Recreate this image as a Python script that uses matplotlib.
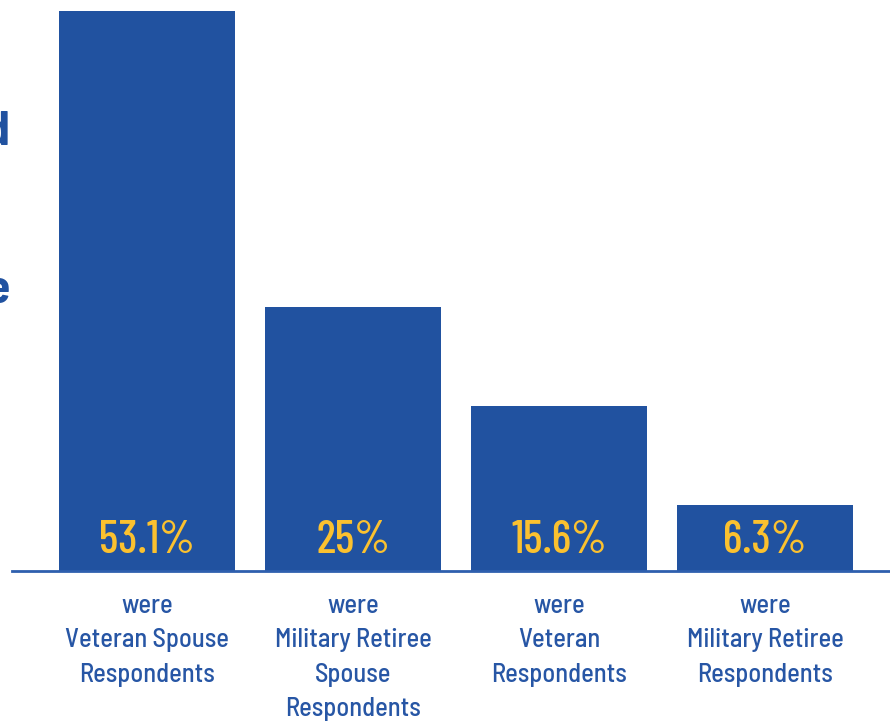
import matplotlib
matplotlib.use("Agg")
import matplotlib.pyplot as plt
from matplotlib.transforms import offset_copy, blended_transform_factory

# respondent shares
categories = ["were\nVeteran Spouse\nRespondents",
              "were\nMilitary Retiree\nSpouse\nRespondents",
              "were\nVeteran\nRespondents",
              "were\nMilitary Retiree\nRespondents"]
shares = [53.1, 25, 15.6, 6.3]
share_labels = ["53.1%", "25%", "15.6%", "6.3%"]

BLUE = "#2152a0"
TEXT_BLUE = "#2756a5"
GOLD = "#fbc12f"
FONT = "Barlow Semi Condensed"
NUM_FONT = "Barlow Condensed"

W, H = 890, 721
fig = plt.figure(figsize=(W / 100, H / 100), dpi=100)
ax = fig.add_axes([12 / W, (H - 571) / H, 878 / W, 571 / H])

x = list(range(len(shares)))
ax.bar(x, shares, width=0.854, color=BLUE, zorder=2)
ax.set_xlim(-0.655, 3.607)
ax.set_ylim(0, 53.1 * 571 / 560)

for side in ["top", "right", "left"]:
    ax.spines[side].set_visible(False)
ax.spines["bottom"].set_color("#2e5fae")
ax.spines["bottom"].set_linewidth(2)
ax.set_yticks([])
ax.set_xticks([])

# value labels sit at the foot of each bar
lbl_tr = offset_copy(ax.transData, fig=fig, x=0, y=18, units="dots")
for xi, txt in zip(x, share_labels):
    ax.text(xi, 0, txt, transform=lbl_tr, ha="center", va="baseline",
            color=GOLD, fontsize=33, fontweight=500, family=NUM_FONT)

# category captions under the axis
cap_tr = blended_transform_factory(ax.transData, fig.transFigure)
for xi, txt in zip(x, categories):
    ax.text(xi, (H - 594) / H, txt, transform=cap_tr, ha="center", va="top",
            color=TEXT_BLUE, fontsize=19, fontweight=500, family=FONT,
            linespacing=1.55, clip_on=False)

# tail ends of the heading beside the chart
fig.text(9 / W, (H - 145) / H, "d", ha="right", va="baseline", color=BLUE,
         fontsize=34, fontweight="bold", family=FONT)
fig.text(9 / W, (H - 303) / H, "e", ha="right", va="baseline", color=BLUE,
         fontsize=34, fontweight="bold", family=FONT)

fig.savefig("out.png", dpi=100)
